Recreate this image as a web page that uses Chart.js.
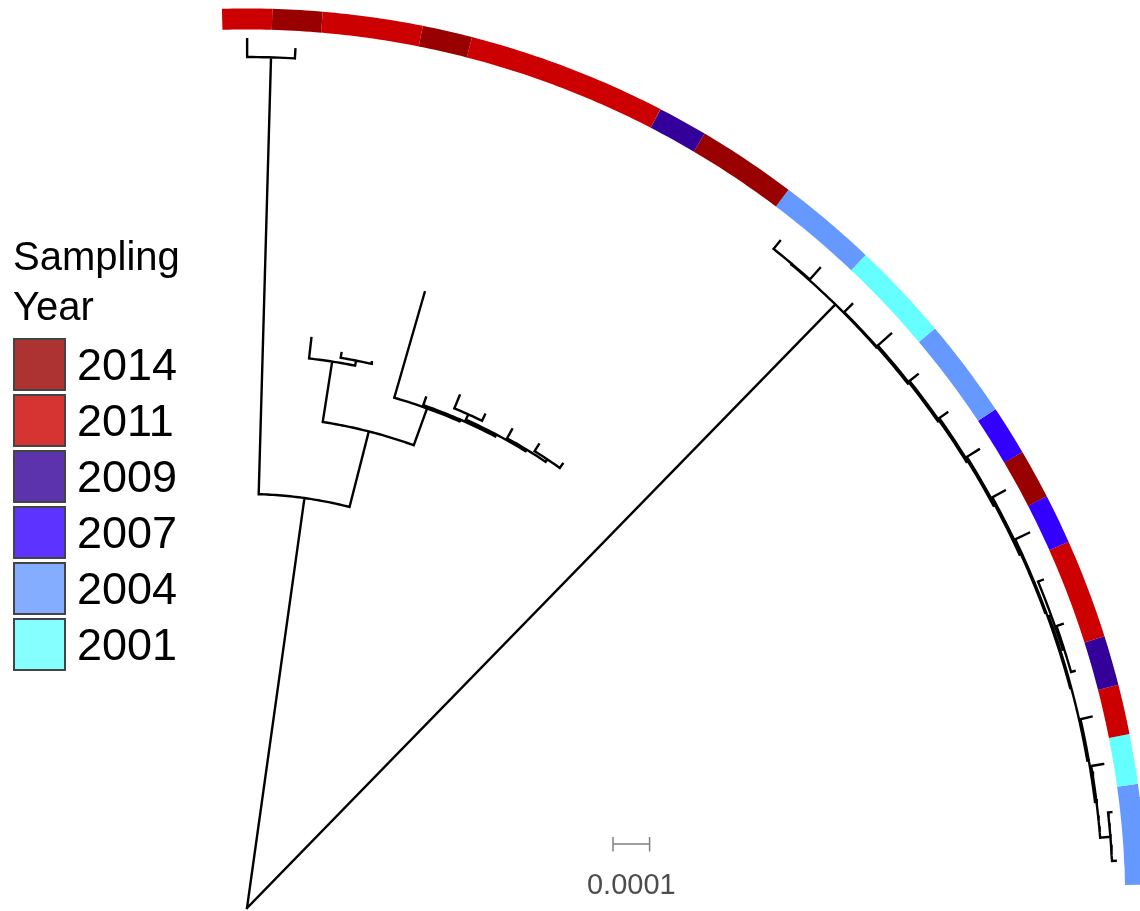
<!DOCTYPE html>
<html>
<head>
<meta charset="utf-8">
<script src="https://cdn.jsdelivr.net/npm/chart.js@4.4.1/dist/chart.umd.min.js"></script>
<style>
  html, body { margin: 0; padding: 0; background: #fff; }
  #wrap { position: relative; width: 1140px; height: 911px; overflow: hidden; font-family: "Liberation Sans", Arial, sans-serif; }
  #arbol { position: absolute; left: 0; top: 0; }
  .titulo { position: absolute; left: 13px; font-size: 40px; line-height: 40px; color: #000; white-space: nowrap; }
  .caixa { position: absolute; left: 13px; width: 49px; height: 49px; border: 2px solid #444; }
  .ano { position: absolute; left: 77px; font-size: 45px; line-height: 53px; height: 53px; color: #000; }
</style>
</head>
<body>
<div id="wrap">
  <canvas id="arbol" width="1140" height="911"></canvas>
  <div id="legenda"></div>
</div>
<script>
// sampling year of each tip, in order around the fan (top -> bottom right)
const tipYears = [2011, 2014, 2011, 2011, 2014, 2011, 2011, 2011, 2011, 2009,
                  2014, 2014, 2004, 2004, 2001, 2001, 2004, 2004, 2007, 2014,
                  2007, 2011, 2011, 2009, 2011, 2001, 2004, 2004];

// tree: node, parent, distance from root (x 1e-4 subs/site)
const nodeIds     = ['root', 'A', 'T12', 't1', 't2', 'B', 'C', 't3', 'D', 't4', 't5',
                     'E', 't6', 'F', 't7', 'X', 'N89', 't8', 't9', 'N10', 't10', 'N11', 't11', 't12',
                     'R', 'N13', 't13', 't14', 'N15', 't15', 'N16', 't16', 'N17', 't17', 'N18', 't18',
                     'N19', 't19', 'N20', 't20', 'N21', 't21', 'N22', 'M', 't22', 'M2', 't23', 't24',
                     'N25', 't25', 'N26', 't26', 'N27', 't27', 't28'];
const nodeParents = [null, 'root', 'A', 'T12', 'T12', 'A', 'B', 'C', 'C', 'D', 'D',
                     'B', 'E', 'E', 'F', 'F', 'X', 'N89', 'N89', 'X', 'N10', 'N10', 'N11', 'N11',
                     'root', 'R', 'N13', 'N13', 'R', 'N15', 'N15', 'N16', 'N16', 'N17', 'N17', 'N18',
                     'N18', 'N19', 'N19', 'N20', 'N20', 'N21', 'N21', 'N22', 'M', 'M', 'M2', 'M2',
                     'N22', 'N25', 'N25', 'N26', 'N26', 'N27', 'N27'];
const nodeDepths  = [0, 11.31, 23.25, 23.74, 23.50, 13.44, 15.11, 15.67, 15.25, 15.38, 15.30,
                     14.51, 17.51, 14.56, 14.78, 14.62, 14.78, 15.16, 14.97, 14.67, 14.95, 14.75, 14.97, 14.89,
                     23.03, 23.05, 23.33, 23.47, 23.05, 23.36, 23.09, 23.58, 23.13, 23.42, 23.17, 23.44,
                     23.21, 23.60, 23.25, 23.64, 23.28, 23.70, 23.31, 23.38, 23.52, 23.42, 23.60, 23.52,
                     23.35, 23.66, 23.39, 23.72, 23.67, 23.76, 23.77];

// legend
const legendYears  = [2014, 2011, 2009, 2007, 2004, 2001];
const legendColors = ['#990000', '#cc0000', '#330099', '#3300ff', '#6699ff', '#66ffff'];

// scale bar
const scaleBarLength = 1;       // 1e-4
const scaleBarLabel = '0.0001';

// ---- layout ----
const K = 36.6;                 // px per 1e-4
const ROOT = { x: 247, y: 908 };
const W = 1140, H = 911;
const fanStart = 91.6, fanSpan = 90.1;
const tipStep = fanSpan / tipYears.length;
const ringR = 889 / K, ringW = 21;

const rad = a => a * Math.PI / 180;
const pt = (r, a) => ({ x: r * Math.cos(rad(a)), y: r * Math.sin(rad(a)) });
function arc(r, a1, a2) {
  const n = Math.max(2, Math.ceil(Math.abs(a2 - a1) / 0.4) + 1);
  const out = [];
  for (let i = 0; i < n; i++) out.push(pt(r, a1 + (a2 - a1) * i / (n - 1)));
  return out;
}

const tipIds = tipYears.map((_, i) => 't' + (i + 1));
const kids = {}, depth = {};
nodeIds.forEach((id, i) => {
  depth[id] = nodeDepths[i];
  const p = nodeParents[i];
  if (p) (kids[p] = kids[p] || []).push(id);
});
const ang = {};
function angle(id) {
  if (ang[id] !== undefined) return ang[id];
  if (!kids[id]) ang[id] = fanStart - tipStep * (tipIds.indexOf(id) + 0.5);
  else ang[id] = kids[id].reduce((s, k) => s + angle(k), 0) / kids[id].length;
  return ang[id];
}
nodeIds.forEach(angle);

// branches: radial piece + arc for every node
const ramos = [];
const gap = { x: null, y: null };
nodeIds.forEach((id, i) => {
  const p = nodeParents[i];
  if (p) ramos.push(pt(depth[p], ang[id]), pt(depth[id], ang[id]), gap);
  if (kids[id] && depth[id] > 0) {
    const as = kids[id].map(k => ang[k]);
    ramos.push(...arc(depth[id], Math.max(...as), Math.min(...as)), gap);
  }
});

// ring: merge runs of same year
const ringSets = [];
let s = 0;
for (let i = 1; i <= tipYears.length; i++) {
  if (i === tipYears.length || tipYears[i] !== tipYears[s]) {
    const cor = legendColors[legendYears.indexOf(tipYears[s])];
    ringSets.push({
      data: arc(ringR, fanStart - tipStep * s, fanStart - tipStep * i),
      showLine: true, borderColor: cor, borderWidth: ringW, borderCapStyle: 'butt',
      pointRadius: 0, pointHoverRadius: 0
    });
    s = i;
  }
}

// scale bar (x from root, y above root)
const sbX = 10, sbY = (ROOT.y - 844) / K, sbT = 7 / K;
const barra = [
  { x: sbX, y: sbY + sbT }, { x: sbX, y: sbY - 7.5 / K }, gap,
  { x: sbX, y: sbY }, { x: sbX + scaleBarLength, y: sbY }, gap,
  { x: sbX + scaleBarLength, y: sbY + sbT }, { x: sbX + scaleBarLength, y: sbY - 7.5 / K }
];

const rotuloEscala = {
  id: 'rotuloEscala',
  afterDatasetsDraw(chart) {
    const { ctx, scales: { x, y } } = chart;
    ctx.save();
    ctx.font = '29px "Liberation Sans", Arial, sans-serif';
    ctx.fillStyle = '#4d4d4d';
    ctx.textAlign = 'center';
    ctx.textBaseline = 'alphabetic';
    ctx.fillText(scaleBarLabel, x.getPixelForValue(sbX + scaleBarLength / 2), y.getPixelForValue(sbY) + 50);
    ctx.restore();
  }
};

new Chart(document.getElementById('arbol').getContext('2d'), {
  type: 'scatter',
  data: {
    datasets: [
      ...ringSets,
      { data: ramos, showLine: true, borderColor: '#000', borderWidth: 2.4, spanGaps: false,
        borderCapStyle: 'square', borderJoinStyle: 'miter', pointRadius: 0, pointHoverRadius: 0 },
      { data: barra, showLine: true, borderColor: '#808080', borderWidth: 1.5, spanGaps: false,
        pointRadius: 0, pointHoverRadius: 0 }
    ]
  },
  options: {
    responsive: false,
    animation: false,
    events: [],
    layout: { padding: 0 },
    scales: {
      x: { type: 'linear', display: false, min: -ROOT.x / K, max: (W - ROOT.x) / K },
      y: { type: 'linear', display: false, min: (ROOT.y - H) / K, max: ROOT.y / K }
    },
    plugins: { legend: { display: false }, tooltip: { enabled: false } }
  },
  plugins: [rotuloEscala]
});

// legend (HTML)
const leg = document.getElementById('legenda');
['Sampling', 'Year'].forEach((t, i) => {
  const d = document.createElement('div');
  d.className = 'titulo';
  d.style.top = (236 + i * 50) + 'px';
  d.textContent = t;
  leg.appendChild(d);
});
legendYears.forEach((yr, i) => {
  const c = legendColors[i];
  const r = parseInt(c.slice(1, 3), 16), g = parseInt(c.slice(3, 5), 16), b = parseInt(c.slice(5, 7), 16);
  const box = document.createElement('div');
  box.className = 'caixa';
  box.style.top = (338 + i * 56) + 'px';
  box.style.background = `rgba(${r},${g},${b},0.8)`;
  leg.appendChild(box);
  const t = document.createElement('div');
  t.className = 'ano';
  t.style.top = (338 + i * 56) + 'px';
  t.textContent = yr;
  leg.appendChild(t);
});
</script>
</body>
</html>
